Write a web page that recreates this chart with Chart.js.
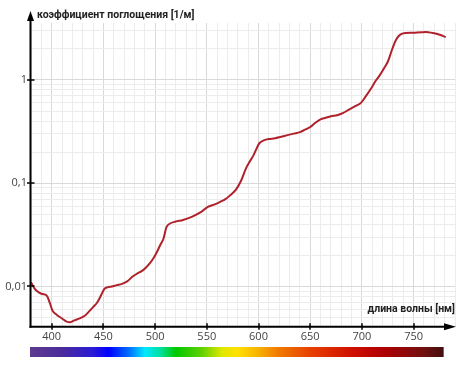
<!DOCTYPE html>
<html>
<head>
<meta charset="utf-8">
<script src="https://cdn.jsdelivr.net/npm/chart.js@4"></script>
<style>
  body { margin: 0; background: #fff; }
  canvas { display: block; }
</style>
</head>
<body>
<canvas id="chart" width="474" height="367"></canvas>
<script>
// wavelength [nm] and absorption coefficient [1/m]
const wavelengths = [380, 383, 386, 390, 395, 398, 401, 405, 410, 414, 418, 422, 427, 432, 436, 440, 444, 448, 451, 454,
  458, 463, 468, 473, 478, 482, 487, 491, 495, 499, 502, 505, 508, 511, 514, 520, 527, 536, 545, 551,
  557, 563, 568, 573, 578, 583, 588, 592, 595, 598, 601, 605, 610, 616, 622, 628, 634, 640, 645, 650,
  655, 660, 665, 670, 676, 682, 688, 694, 699, 704, 709, 713, 717, 721, 725, 729, 733, 737, 742, 750,
  758, 764, 770, 776, 781];
const absorption = [0.0110, 0.0097, 0.0090, 0.0085, 0.0082, 0.0070, 0.0058, 0.0053, 0.0049, 0.0046, 0.0045, 0.0047, 0.0049, 0.0052, 0.0057, 0.0063, 0.0070, 0.0083, 0.0095, 0.0098,
  0.0100, 0.0103, 0.0106, 0.0112, 0.0124, 0.0132, 0.0141, 0.0152, 0.0168, 0.0192, 0.0218, 0.0252, 0.0288, 0.0375, 0.0405, 0.0425, 0.0440, 0.0475, 0.0530, 0.0590,
  0.0620, 0.0660, 0.0700, 0.0770, 0.0860, 0.1050, 0.1400, 0.1650, 0.1850, 0.2150, 0.2450, 0.2600, 0.2680, 0.2720, 0.2820, 0.2920, 0.3020, 0.3120, 0.3300, 0.3500,
  0.3850, 0.4150, 0.4300, 0.4450, 0.4550, 0.4800, 0.5200, 0.5600, 0.6000, 0.7000, 0.8300, 0.9700, 1.1000, 1.2800, 1.5000, 1.9500, 2.4500, 2.7500, 2.8500, 2.8700,
  2.9000, 2.9000, 2.8300, 2.7200, 2.6000];

const yGridValues = [0.005, 0.006, 0.007, 0.008, 0.009,
  0.01, 0.02, 0.03, 0.04, 0.05, 0.06, 0.07, 0.08, 0.09,
  0.1, 0.2, 0.3, 0.4, 0.5, 0.6, 0.7, 0.8, 0.9,
  1, 2, 3];
const yTickValues = [0.01, 0.1, 1];
const yTickLabels = ['0,01', '0,1', '1'];
const xTickValues = [400, 450, 500, 550, 600, 650, 700, 750];

// colour bar under the x axis
const spectrumNm = [380, 410, 440, 455, 475, 490, 505, 520, 545, 565, 580, 600, 620, 650, 690, 720, 760, 780];
const spectrumColors = ['#5c3a8e', '#4b2b9c', '#2a1bd6', '#0000ff', '#0070ff', '#00e8ff', '#00e0a0', '#00c800', '#60d000',
  '#e0e800', '#ffe000', '#f8b000', '#f07800', '#e84000', '#d01000', '#b00000', '#701010', '#401010'];

const axesPlugin = {
  id: 'axes',
  afterDraw(chart) {
    const { ctx, chartArea, scales } = chart;
    const x = scales.x, y = scales.y;
    const ax = chartArea.left - 0.5, ay = chartArea.bottom - 0.3;
    ctx.save();
    ctx.strokeStyle = '#000';
    ctx.fillStyle = '#000';
    ctx.lineWidth = 2;
    // y axis
    ctx.beginPath();
    ctx.moveTo(ax, ay + 1);
    ctx.lineTo(ax, 20);
    ctx.stroke();
    ctx.beginPath();
    ctx.moveTo(ax, 11);
    ctx.lineTo(ax - 3.5, 21);
    ctx.lineTo(ax + 3.5, 21);
    ctx.closePath();
    ctx.fill();
    // x axis
    ctx.beginPath();
    ctx.moveTo(ax - 1, ay);
    ctx.lineTo(446, ay);
    ctx.stroke();
    ctx.beginPath();
    ctx.moveTo(456, ay);
    ctx.lineTo(444, ay - 3.5);
    ctx.lineTo(444, ay + 3.5);
    ctx.closePath();
    ctx.fill();
    // tick marks
    ctx.lineWidth = 1.5;
    yTickValues.forEach(v => {
      const py = Math.round(y.getPixelForValue(v));
      ctx.beginPath();
      ctx.moveTo(ax - 3.5, py);
      ctx.lineTo(ax + 4, py);
      ctx.stroke();
    });
    xTickValues.forEach(v => {
      const px = Math.round(x.getPixelForValue(v));
      ctx.beginPath();
      ctx.moveTo(px, ay - 3.5);
      ctx.lineTo(px, ay + 3);
      ctx.stroke();
    });
    // axis titles
    ctx.font = 'bold 10.5px Roboto';
    ctx.fillStyle = '#222';
    ctx.textBaseline = 'middle';
    ctx.textAlign = 'left';
    ctx.fillText('коэффициент поглощения [1/м]', 37, 15.5);
    ctx.textAlign = 'right';
    ctx.fillText('длина волны [нм]', 455, 309);
    // spectrum bar
    const x0 = x.getPixelForValue(spectrumNm[0]);
    const x1 = x.getPixelForValue(spectrumNm[spectrumNm.length - 1]);
    const grad = ctx.createLinearGradient(x0, 0, x1, 0);
    spectrumNm.forEach((nm, i) => {
      grad.addColorStop((nm - spectrumNm[0]) / (spectrumNm[spectrumNm.length - 1] - spectrumNm[0]), spectrumColors[i]);
    });
    ctx.fillStyle = grad;
    ctx.fillRect(x0 - 1, 347, x1 - x0, 10);
    ctx.restore();
  }
};

new Chart(document.getElementById('chart'), {
  type: 'line',
  data: {
    datasets: [{
      data: wavelengths.map((w, i) => ({ x: w, y: absorption[i] })),
      borderColor: '#b0222b',
      borderWidth: 2,
      pointRadius: 0,
      tension: 0.35,
      fill: false
    }]
  },
  options: {
    responsive: false,
    animation: false,
    devicePixelRatio: 1,
    layout: { padding: { left: 0, right: 19, top: 23, bottom: 0 } },
    plugins: { legend: { display: false }, tooltip: { enabled: false } },
    scales: {
      x: {
        type: 'linear',
        min: 380,
        max: 790,
        afterFit: s => { s.height = 40; },
        border: { display: false },
        grid: {
          drawTicks: false,
          color: c => (c.tick && c.tick.value % 50 === 0 ? '#d9d9d9' : '#ececec'),
          lineWidth: 1
        },
        ticks: {
          stepSize: 10,
          autoSkip: false,
          maxRotation: 0,
          minRotation: 0,
          padding: 3,
          color: '#444',
          font: { family: 'Open Sans', size: 11 },
          callback: v => (xTickValues.includes(v) ? String(v) : '')
        }
      },
      y: {
        type: 'logarithmic',
        min: 0.00405,
        max: 3.56,
        afterFit: s => { s.width = 31; },
        afterBuildTicks: s => { s.ticks = yGridValues.map(v => ({ value: v })); },
        border: { display: false },
        grid: {
          drawTicks: false,
          color: c => (c.tick && yTickValues.includes(c.tick.value) ? '#d9d9d9' : '#ececec'),
          lineWidth: 1
        },
        ticks: {
          autoSkip: false,
          padding: 4,
          color: '#444',
          font: { family: 'Open Sans', size: 11 },
          callback: v => {
            const i = yTickValues.indexOf(v);
            return i >= 0 ? yTickLabels[i] : '';
          }
        }
      }
    }
  },
  plugins: [axesPlugin]
});
</script>
</body>
</html>
